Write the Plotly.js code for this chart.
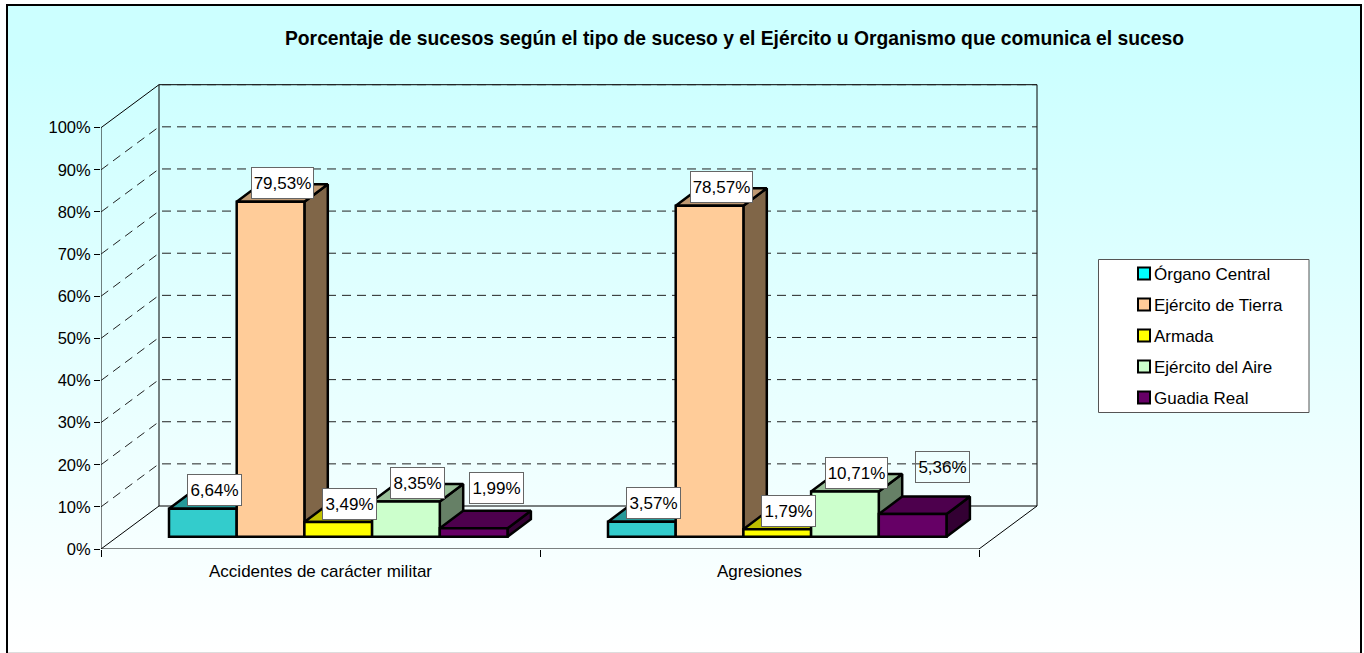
<!DOCTYPE html>
<html><head><meta charset="utf-8">
<script src="https://cdn.plot.ly/plotly-3.0.1.min.js"></script>
<style>
html,body{margin:0;padding:0;width:1364px;height:653px;overflow:hidden;background:#fff}
#bg{position:absolute;left:6px;top:4px;width:1352px;height:660px;border:2px solid #000;background:linear-gradient(to bottom,#ccffff 0%,#ccffff 8%,#ffffff 98%)}
#foot{position:absolute;left:8px;top:652px;width:1352px;height:1px;background:#ddd}
#chart{position:absolute;left:0;top:0;width:1364px;height:653px}
</style></head>
<body><div id="bg"></div><div id="foot"></div><div id="chart"></div>
<script>
const categories = ['Accidentes de carácter militar', 'Agresiones'];
const seriesNames = ['Órgano Central', 'Ejército de Tierra', 'Armada', 'Ejército del Aire', 'Guadia Real'];
const organoCentral = [6.64, 3.57];
const ejercitoTierra = [79.53, 78.57];
const armada = [3.49, 1.79];
const ejercitoAire = [8.35, 10.71];
const guardiaReal = [1.99, 5.36];
const allSeries = [organoCentral, ejercitoTierra, armada, ejercitoAire, guardiaReal];
const yTicks = [0, 10, 20, 30, 40, 50, 60, 70, 80, 90, 100];

const legendColors = ['#00ffff', '#ffcc99', '#ffff00', '#ccffcc', '#660066'];
const frontColors = ['#33cccc', '#ffcc99', '#ffff00', '#ccffcc', '#660066'];
const topColors = ['#269999', '#bf9973', '#bfbf00', '#99bf99', '#4d004d'];
const sideColors = ['#1a6666', '#806648', '#808000', '#668066', '#330033'];

// projection of the pseudo-3D box
const pxX = 439, pxY = 4.213;
const ML = 101, MT = 79, PW = 939, PH = 470;
const xMax = PW / pxX, yMax = PH / pxY;
const wallDX = 58 / pxX, wallDY = 43 / pxY;
const barDX = 23.4 / pxX, barDY = 17.5 / pxY;
const baseY = 12.3 / pxY;
const firstX = 68 / pxX, barW = 67.7 / pxX;
const gridGap = 3 / pxX;

const traces = [];
const dashed = {color: '#222', width: 1, dash: '9px,6px'};
const solid = {color: '#000', width: 1};
function line(x, y, l) {
  traces.push({type: 'scatter', mode: 'lines', x, y, line: l, hoverinfo: 'skip', showlegend: false, xaxis: 'x', yaxis: 'y'});
}
// walls and floor
line([wallDX, wallDX, wallDX + 2, wallDX + 2, wallDX], [wallDY, wallDY + 100, wallDY + 100, wallDY, wallDY], solid);
line([0, 0, wallDX], [0, 100, wallDY + 100], solid);
line([0, wallDX], [0, wallDY], solid);
line([0, 2, 2 + wallDX], [0, 0, wallDY], solid);
yTicks.filter(v => v > 0).forEach(v => {
  line([wallDX + gridGap, wallDX + 2], [v + wallDY, v + wallDY], dashed);
  if (v < 100) line([0, wallDX], [v, v + wallDY], dashed);
});

// legend entries
seriesNames.forEach((n, s) => {
  traces.push({type: 'bar', x: [null], y: [null], name: n, legendgroup: 'g' + s,
    marker: {color: legendColors[s], line: {color: '#000', width: 2}}, xaxis: 'x', yaxis: 'y', hoverinfo: 'skip'});
});

// top and side faces, series by series
allSeries.forEach((vals, s) => {
  const tx = [], ty = [], sx = [], sy = [];
  vals.forEach((v, c) => {
    const x0 = c + firstX + s * barW, x1 = x0 + barW, b = baseY, t = baseY + v;
    sx.push(x1, x1 + barDX, x1 + barDX, x1, x1, null);
    sy.push(b, b + barDY, t + barDY, t, b, null);
    tx.push(x0, x0 + barDX, x1 + barDX, x1, x0, null);
    ty.push(t, t + barDY, t + barDY, t, t, null);
  });
  [[sx, sy, sideColors[s]], [tx, ty, topColors[s]]].forEach(f => {
    traces.push({type: 'scatter', mode: 'lines', x: f[0], y: f[1], fill: 'toself', fillcolor: f[2],
      line: {color: '#000', width: 2.5}, hoverinfo: 'skip', showlegend: false, xaxis: 'x', yaxis: 'y'});
  });
});

// front faces, above every side and top face
allSeries.forEach((vals, s) => {
  traces.push({type: 'bar', x: vals.map((v, c) => c + firstX + s * barW + barW / 2), y: vals,
    base: vals.map(() => baseY), width: vals.map(() => barW), name: seriesNames[s], showlegend: false,
    marker: {color: frontColors[s], line: {color: '#000', width: 2.5}}, xaxis: 'x2', yaxis: 'y2', hoverinfo: 'skip'});
});

// value labels
const FONT = 'Liberation Sans, Arial, sans-serif';
const nudge = {'4-0': [11, 22], '4-1': [18, 29]};
const annotations = [];
allSeries.forEach((vals, s) => vals.forEach((v, c) => {
  const txt = v.toFixed(2).replace('.', ',') + '%';
  const n = nudge[s + '-' + c] || [0, 0];
  annotations.push({x: c + firstX + s * barW + barW / 2 + barDX / 2, y: baseY + v + barDY / 2, xref: 'x', yref: 'y',
    text: txt, showarrow: false, xshift: n[0], yshift: 9.5 + n[1], width: txt.length > 5 ? 61 : 53, height: 30,
    font: {family: FONT, size: 17, color: '#000'},
    bgcolor: (s === 4 && c === 1) ? 'rgba(255,255,255,0)' : '#fff', bordercolor: '#666', borderwidth: 1, borderpad: 0});
}));

const px = x => (x - ML) / PW, py = y => 1 - (y - MT) / PH;
const layout = {
  width: 1364, height: 653, autosize: false,
  margin: {l: ML, r: 1364 - ML - PW, t: MT, b: 653 - MT - PH, pad: 0},
  paper_bgcolor: 'rgba(0,0,0,0)', plot_bgcolor: 'rgba(0,0,0,0)',
  font: {family: FONT, size: 17, color: '#000'},
  title: {text: 'Porcentaje de sucesos según el tipo de suceso y el Ejército u Organismo que comunica el suceso',
    x: 734.5 / 1364, xanchor: 'center', xref: 'container', y: 1 - 38 / 653, yanchor: 'middle', yref: 'container',
    font: {family: FONT, size: 19.3, weight: 700, color: '#000'}},
  barmode: 'overlay',
  xaxis: {range: [0, xMax], tickmode: 'array', tickvals: [0.5, 1.5], ticktext: categories, ticks: '', showgrid: false,
    zeroline: false, showline: false, ticklabelstandoff: 10, tickfont: {size: 17}},
  yaxis: {range: [0, yMax], tickmode: 'array', tickvals: yTicks, ticktext: yTicks.map(v => v + '%'), ticks: 'outside', ticklen: 6,
    tickcolor: '#000', showgrid: false, zeroline: false, showline: false, tickfont: {size: 16.5}},
  xaxis2: {overlaying: 'x', matches: 'x', side: 'bottom', tickmode: 'array', tickvals: [0, 1, 2], ticks: 'outside', ticklen: 7,
    tickcolor: '#000', showticklabels: false, showgrid: false, zeroline: false, showline: false},
  yaxis2: {overlaying: 'y', matches: 'y', showticklabels: false, ticks: '', showgrid: false, zeroline: false, showline: false},
  legend: {x: px(1124), y: py(256), xanchor: 'left', yanchor: 'top', bgcolor: 'rgba(0,0,0,0)', borderwidth: 0,
    tracegroupgap: 5.9, font: {family: FONT, size: 17, color: '#000'}},
  shapes: [{type: 'rect', xref: 'paper', yref: 'paper', x0: px(1098.5), x1: px(1309), y0: py(259.5), y1: py(412.5),
    fillcolor: '#fff', line: {color: '#555', width: 1}, layer: 'above'}],
  annotations
};
Plotly.newPlot('chart', traces, layout, {displayModeBar: false, staticPlot: true}).then(() => {
  document.querySelectorAll('#chart .legendtext').forEach(t => t.setAttribute('x', '30'));
});
</script></body></html>
